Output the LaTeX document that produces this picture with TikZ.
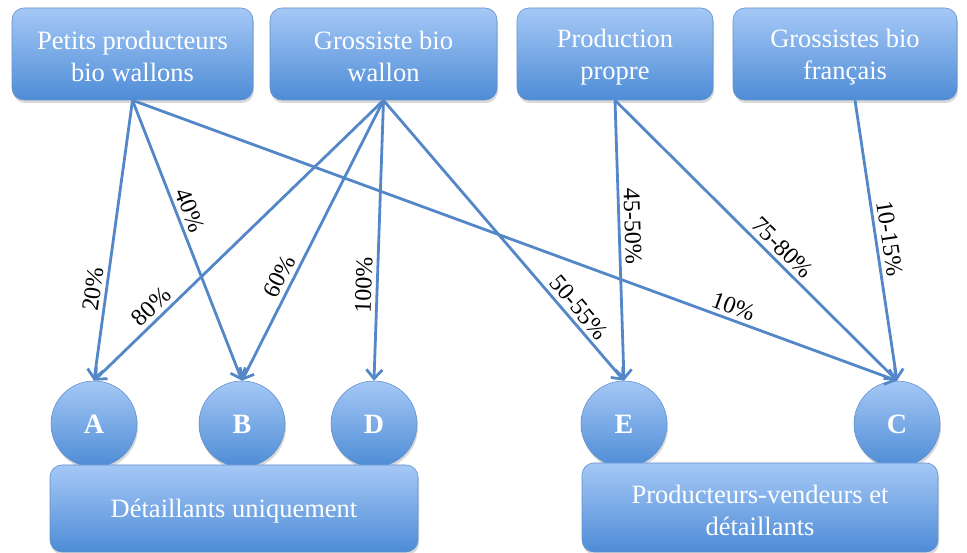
\documentclass[tikz,border=0pt]{standalone}
\usepackage{fontspec}
\setmainfont{Liberation Serif}
\usetikzlibrary{arrows.meta,shadows}
\definecolor{boxtop}{RGB}{165,200,246}
\definecolor{boxbot}{RGB}{78,140,214}
\definecolor{boxedge}{RGB}{100,145,205}
\definecolor{linec}{RGB}{84,135,199}
\newcommand\tstrut{\rule{0pt}{24pt}}
\tikzset{
  shad/.style={drop shadow={opacity=0.3,shadow xshift=1pt,shadow yshift=-3pt}},
  box/.style={rounded corners=12pt, top color=boxtop, bottom color=boxbot,
    draw=boxedge, line width=0.6pt, text=white, align=center,
    font=\fontsize{26.5}{32}\selectfont, shad},
  circ/.style={circle, minimum size=86pt, inner sep=0pt, top color=boxtop,
    bottom color=boxbot, draw=boxedge, line width=0.6pt, text=white,
    font=\fontsize{28}{30}\selectfont\bfseries, shad},
  flow/.style={draw=linec, line width=2.8pt,
    -{Straight Barb[length=9pt,width=16pt]}},
  lab/.style={sloped, above, font=\fontsize{24}{25}\selectfont, text=black,
    inner sep=4pt}
}
\begin{document}
\begin{tikzpicture}[x=1pt,y=1pt]
\useasboundingbox (0,0) rectangle (967,553);
% top boxes
\node[box, minimum width=241pt, minimum height=92pt] (p1) at (132.5,499) {\tstrut Petits producteurs\\bio wallons};
\node[box, minimum width=227pt, minimum height=92pt] (p2) at (383.5,499) {\tstrut Grossiste bio\\wallon};
\node[box, minimum width=196pt, minimum height=92pt] (p3) at (615,499) {\tstrut Production\\propre};
\node[box, minimum width=224pt, minimum height=92pt] (p4) at (845,499) {\tstrut Grossistes bio\\français};
% circles
\node[circ] (A) at (94,129) {A};
\node[circ] (B) at (242,129) {B};
\node[circ] (D) at (374,129) {D};
\node[circ] (E) at (624,129) {E};
\node[circ] (C) at (897,129) {C};
% bottom boxes
\node[box, minimum width=368pt, minimum height=87pt] (dl) at (234,44.5) {\tstrut Détaillants uniquement};
\node[box, minimum width=356pt, minimum height=89pt] (pv) at (760,45.5) {\tstrut Producteurs-vendeurs et\\détaillants};
% connectors
\draw[flow] (p1.south) -- node[lab, pos=0.68] {20\%} (A.north);
\draw[flow] (p1.south) -- node[lab, pos=0.41] {40\%} (B.north);
\draw[flow] (p1.south) -- node[lab, pos=0.78] {10\%} (C.north);
\draw[flow] (p2.south) -- node[lab, pos=0.77] {80\%} (A.north);
\draw[flow] (p2.south) -- node[lab, pos=0.65] {60\%} (B.north);
\draw[flow] (p2.south) -- node[lab, pos=0.66] {100\%} (D.north);
\draw[flow] (p2.south) -- node[lab, pos=0.77] {50-55\%} (E.north);
\draw[flow] (p3.south) -- node[lab, pos=0.45] {45-50\%} (E.north);
\draw[flow] (p3.south) -- node[lab, pos=0.56] {75-80\%} (C.north);
\draw[flow] ([xshift=10pt]p4.south) -- node[lab, pos=0.5] {10-15\%} (C.north);
\end{tikzpicture}
\end{document}
